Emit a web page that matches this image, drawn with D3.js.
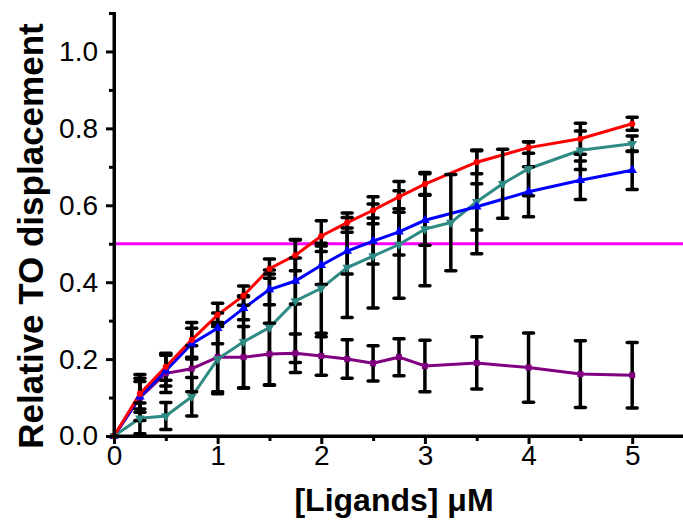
<!DOCTYPE html>
<html>
<head>
<meta charset="utf-8">
<script src="https://cdn.jsdelivr.net/npm/d3@7"></script>
<style>
	body { margin: 0; background: #ffffff; }
	svg { display: block; }
</style>
</head>
<body>
<svg id="chart" width="683" height="522"></svg>
<script>
// Concentration points for each ligand (uM).
var red_x = [0, 0.25, 0.5, 0.75, 1, 1.25, 1.5, 1.75, 2, 2.25, 2.5, 2.75, 3, 3.5, 4, 4.5, 5];
var red_y = [0, 0.11, 0.18, 0.25, 0.315, 0.365, 0.435, 0.47, 0.52, 0.555, 0.587, 0.622, 0.655, 0.712, 0.75, 0.773, 0.812];
var red_err = [0, 0.04, 0.035, 0.045, 0.03, 0.025, 0.025, 0.04, 0.04, 0.025, 0.035, 0.04, 0.027, 0.03, 0.015, 0.04, 0.017];

var blue_x = [0, 0.25, 0.5, 0.75, 1, 1.25, 1.5, 1.75, 2, 2.25, 2.5, 2.75, 3, 3.5, 4, 4.5, 5];
var blue_y = [0, 0.102, 0.17, 0.24, 0.28, 0.332, 0.381, 0.403, 0.444, 0.481, 0.507, 0.531, 0.561, 0.596, 0.635, 0.665, 0.691];
var blue_err = [0, 0.04, 0.04, 0.04, 0.04, 0.03, 0.04, 0.06, 0.05, 0.06, 0.06, 0.06, 0.065, 0.06, 0.065, 0.05, 0.05];

var teal_x = [0, 0.25, 0.5, 0.75, 1, 1.25, 1.5, 1.75, 2, 2.25, 2.5, 2.75, 3, 3.25, 3.5, 3.75, 4, 4.5, 5];
var teal_y = [0, 0.046, 0.052, 0.102, 0.2, 0.245, 0.282, 0.351, 0.384, 0.438, 0.468, 0.498, 0.538, 0.555, 0.609, 0.656, 0.695, 0.743, 0.76];
var teal_err = [0, 0.04, 0.035, 0.05, 0.09, 0.12, 0.15, 0.16, 0.117, 0.13, 0.135, 0.14, 0.147, 0.125, 0.135, 0.09, 0.07, 0.05, 0.02];

var purple_x = [0, 0.25, 0.5, 0.75, 1, 1.25, 1.5, 1.75, 2, 2.25, 2.5, 2.75, 3, 3.5, 4, 4.5, 5];
var purple_y = [0, 0.1, 0.163, 0.175, 0.205, 0.205, 0.213, 0.215, 0.208, 0.2, 0.189, 0.205, 0.182, 0.19, 0.178, 0.161, 0.158];
var purple_err = [0, 0.06, 0.05, 0.06, 0.09, 0.08, 0.08, 0.05, 0.05, 0.05, 0.046, 0.048, 0.067, 0.068, 0.09, 0.087, 0.085];

var half_level = 0.5;

var x_major_ticks = [0, 1, 2, 3, 4, 5];
var x_minor_ticks = [0.5, 1.5, 2.5, 3.5, 4.5];
var y_major_ticks = [0, 0.2, 0.4, 0.6, 0.8, 1.0];
var y_minor_ticks = [0.1, 0.3, 0.5, 0.7, 0.9];

var svg = d3.select("#chart");

var x = d3.scaleLinear().domain([0, 5.5]).range([114, 684]);
var y = d3.scaleLinear().domain([0, 1.1]).range([436, 13]);

// Builds [{x, y, e}] rows from the parallel arrays.
function rows(xs, ys, es)
{
	return xs.map(function(v, i) { return {"x": v, "y": ys[i], "e": es[i]}; });
}

var series = [
	{"name": "purple", "color": "#800080", "symbol": d3.symbolSquare, "size": 36, "rot": 0, "data": rows(purple_x, purple_y, purple_err)},
	{"name": "teal", "color": "#2e8b84", "symbol": d3.symbolTriangle, "size": 40, "rot": 180, "data": rows(teal_x, teal_y, teal_err)},
	{"name": "blue", "color": "#0000ff", "symbol": d3.symbolTriangle, "size": 40, "rot": 0, "data": rows(blue_x, blue_y, blue_err)},
	{"name": "red", "color": "#ff0000", "symbol": d3.symbolCircle, "size": 30, "rot": 0, "data": rows(red_x, red_y, red_err)}
];

// Half-maximum reference line.
svg.append("line")
	.attr("x1", x(0))
	.attr("x2", 683)
	.attr("y1", y(half_level))
	.attr("y2", y(half_level))
	.attr("stroke", "#ff00ff")
	.attr("stroke-width", 3);

var line = d3.line()
	.x(function(d) { return x(d.x); })
	.y(function(d) { return y(d.y); });

series.forEach(function(s)
{
	svg.append("path")
		.datum(s.data)
		.attr("d", line)
		.attr("fill", "none")
		.attr("stroke", s.color)
		.attr("stroke-width", 3);
});

// Error bars sit on top of the lines, as in the original plot.
series.forEach(function(s)
{
	var g = svg.append("g").attr("class", "err_" + s.name);
	var with_err = s.data.filter(function(d) { return d.e > 0; });
	g.selectAll("line.stem")
		.data(with_err)
		.enter()
		.append("line")
		.attr("x1", function(d) { return x(d.x); })
		.attr("x2", function(d) { return x(d.x); })
		.attr("y1", function(d) { return y(d.y + d.e); })
		.attr("y2", function(d) { return y(d.y - d.e); })
		.attr("stroke", "#000000")
		.attr("stroke-width", 3.5);
	[1, -1].forEach(function(sign)
	{
		g.selectAll("line.cap" + sign)
			.data(with_err)
			.enter()
			.append("line")
			.attr("x1", function(d) { return x(d.x) - 5; })
			.attr("x2", function(d) { return x(d.x) + 5; })
			.attr("y1", function(d) { return y(d.y + sign * d.e); })
			.attr("y2", function(d) { return y(d.y + sign * d.e); })
			.attr("stroke", "#000000")
			.attr("stroke-width", 3.5)
			.attr("stroke-linecap", "round");
	});
});

series.forEach(function(s)
{
	svg.append("g")
		.selectAll("path")
		.data(s.data)
		.enter()
		.append("path")
		.attr("d", d3.symbol().type(s.symbol).size(s.size))
		.attr("transform", function(d) { return "translate(" + x(d.x) + "," + y(d.y) + ") rotate(" + s.rot + ")"; })
		.attr("fill", s.color);
});

// Axes: majors with labels, minors as shorter ticks.
var font = "Liberation Sans, Arial, sans-serif";

var x_axis = svg.append("g")
	.attr("transform", "translate(0," + y(0) + ")")
	.call(d3.axisBottom(x).tickValues(x_major_ticks).tickSize(8).tickPadding(1).tickFormat(d3.format("d")));
svg.append("g")
	.attr("transform", "translate(0," + y(0) + ")")
	.call(d3.axisBottom(x).tickValues(x_minor_ticks).tickSize(5).tickFormat(""));

var y_axis = svg.append("g")
	.attr("transform", "translate(" + x(0) + ",0)")
	.call(d3.axisLeft(y).tickValues(y_major_ticks).tickSize(8).tickPadding(8).tickFormat(d3.format(".1f")));
svg.append("g")
	.attr("transform", "translate(" + x(0) + ",0)")
	.call(d3.axisLeft(y).tickValues(y_minor_ticks).tickSize(5).tickFormat(""));

svg.selectAll(".domain").attr("stroke", "#000000").attr("stroke-width", 3);
svg.selectAll(".tick line").attr("stroke", "#000000").attr("stroke-width", 3);
svg.selectAll(".tick text")
	.attr("fill", "#000000")
	.style("font-family", font)
	.style("font-size", "28px");

x_axis.select(".domain").attr("d", "M" + x(0) + ",0H683");
y_axis.select(".domain").attr("d", "M0," + y(0) + "V" + y(1.1));

svg.append("text")
	.attr("x", 394)
	.attr("y", 511)
	.attr("text-anchor", "middle")
	.style("font-family", font)
	.style("font-size", "32px")
	.style("font-weight", "bold")
	.text("[Ligands] \u03bcM");

svg.append("text")
	.attr("transform", "translate(43,236) rotate(-90)")
	.attr("text-anchor", "middle")
	.style("font-family", font)
	.style("font-size", "35px")
	.style("font-weight", "bold")
	.text("Relative TO displacement");
</script>
</body>
</html>
